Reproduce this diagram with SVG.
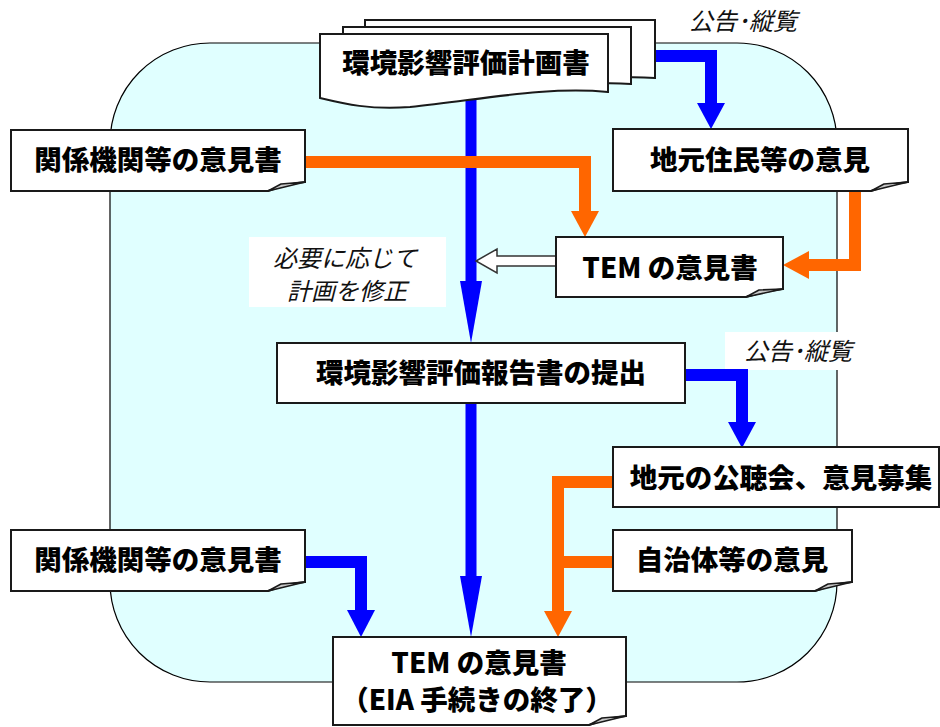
<svg xmlns="http://www.w3.org/2000/svg" width="940" height="727" viewBox="0 0 940 727">
<style>
.bg{fill:#e0ffff;stroke:#000;stroke-width:1.2}
.box{fill:#fff;stroke:#1a1a1a;stroke-width:2}
.flap{fill:#c8c8c8;stroke:#1a1a1a;stroke-width:1.5;stroke-linejoin:round}
.t{font-family:"Noto Sans CJK JP","Noto Sans CJK SC",sans-serif;font-weight:900;font-size:27.5px;fill:#000;text-anchor:middle}
.it{font-family:"Noto Sans CJK JP","Noto Sans CJK SC",sans-serif;font-style:italic;font-size:24px;fill:#111}
.bl{fill:none;stroke:#0000ff;stroke-width:12;stroke-linejoin:miter}
.blm{fill:none;stroke:#0000ff;stroke-width:11}
.bh{fill:#0000ff}
.or{fill:none;stroke:#ff6600;stroke-width:12;stroke-linejoin:miter}
.oh{fill:#ff6600}
.hollow{fill:#fff;stroke:#333;stroke-width:1.5}
</style>
<rect class="bg" x="110" y="43" width="727" height="639" rx="100" ry="100"/>
<rect x="249" y="237" width="197" height="70" fill="#fff"/>
<rect x="725" y="332" width="145" height="38" fill="#fff"/>
<text class="it" x="689" y="30">公告･縦覧</text>
<text class="it" x="744" y="360">公告･縦覧</text>
<g id="label-shusei">
<text class="it" x="345" y="267" text-anchor="middle" font-size="24.5px">必要に応じて</text>
<text class="it" x="347" y="300" text-anchor="middle" font-size="24.5px">計画を修正</text>
</g>
<g id="connectors">
<path class="bl" d="M600,56 H711 V104"/>
<polygon class="bh" points="697,103 725,103 711,129"/>
<path class="blm" d="M471,95 V285"/>
<polygon class="bh" points="460,281 482,281 471,343"/>
<path class="bl" d="M680,375 H742 V424"/>
<polygon class="bh" points="728,422 756,422 742,448"/>
<path class="blm" d="M471,400 V580"/>
<polygon class="bh" points="460,576 482,576 471,637"/>
<path class="bl" d="M300,562 H361 V612"/>
<polygon class="bh" points="347,610 375,610 361,637"/>
<path class="or" d="M300,162 H585 V213"/>
<polygon class="oh" points="571,211 599,211 585,237"/>
<path class="or" d="M855,186 V265 H808"/>
<polygon class="oh" points="809,251 809,279 783,265"/>
<path class="or" d="M618,482 H558 V613"/>
<path class="or" d="M618,562 H558"/>
<polygon class="oh" points="544,611 572,611 558,637"/>
<polygon class="hollow" points="556,256 497,256 497,249 476,261 497,273 497,266 556,266"/>
</g>
<g id="node-keikakusho">
<path class="box" d="M365,20 H655 V78 C600,74 560,86 500,88 C430,90 400,84 365,80 Z"/>
<path class="box" d="M343,27 H631 V84 C580,80 530,92 470,94 C420,96 380,90 343,86 Z"/>
<path class="box" d="M320,34 H608 V92 C545,86 480,100 410,107 C370,110 345,104 320,98 Z"/>
<text class="t" x="466" y="73">環境影響評価計画書</text>
</g>
<g id="node-kankei1">
<path class="box" d="M11,130 H305 V182 Q287,184 268,191 H11 Z"/>
<polygon class="flap" points="268,191 281,184 305,182"/>
<text class="t" x="158" y="170">関係機関等の意見書</text>
</g>
<g id="node-jumin">
<path class="box" d="M613,129 H908 V182 Q890,184 871,191 H613 Z"/>
<polygon class="flap" points="871,191 884,184 908,182"/>
<text class="t" x="760" y="170">地元住民等の意見</text>
</g>
<g id="node-tem1">
<path class="box" d="M556,237 H783 V289 Q765,291 746,297 H556 Z"/>
<polygon class="flap" points="746,297 759,290 783,289"/>
<text class="t" x="670" y="278">TEM の意見書</text>
</g>
<g id="node-hokokusho">
<rect class="box" x="277" y="343" width="408" height="60"/>
<text class="t" x="481" y="383">環境影響評価報告書の提出</text>
</g>
<g id="node-kochokai">
<rect class="box" x="613" y="447" width="326" height="60"/>
<text class="t" x="781" y="488">地元の公聴会、意見募集</text>
</g>
<g id="node-jichitai">
<path class="box" d="M613,530 H852 V582 Q834,584 815,591 H613 Z"/>
<polygon class="flap" points="815,591 828,584 852,582"/>
<text class="t" x="732" y="570">自治体等の意見</text>
</g>
<g id="node-kankei2">
<path class="box" d="M11,530 H305 V582 Q287,584 268,591 H11 Z"/>
<polygon class="flap" points="268,591 281,584 305,582"/>
<text class="t" x="158" y="570">関係機関等の意見書</text>
</g>
<g id="node-tem-final">
<path class="box" d="M333,637 H626 V716 Q608,718 589,725 H333 Z"/>
<polygon class="flap" points="589,725 602,718 626,716"/>
<text class="t" x="479" y="673">TEM の意見書</text>
<text class="t" x="477" y="710">（EIA 手続きの終了）</text>
</g>
</svg>
